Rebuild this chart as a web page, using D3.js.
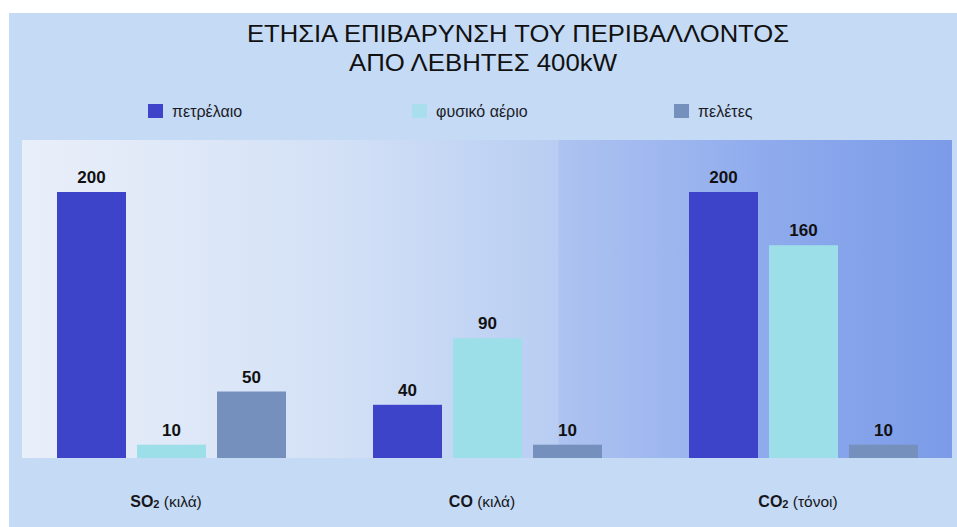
<!DOCTYPE html>
<html>
<head>
<meta charset="utf-8">
<script src="https://cdn.jsdelivr.net/npm/d3@7"></script>
<style>
  html, body { margin: 0; padding: 0; background: #ffffff; }
  svg { display: block; font-family: "Liberation Sans", Arial, sans-serif; }
</style>
</head>
<body>
<svg id="chart" width="957" height="527"></svg>
<script>
// ---- data ----
const categories = ["SO2", "CO", "CO2"];
const categoryChem = ["SO", "CO", "CO"];
const categorySub = ["2", "", "2"];
const categoryUnit = ["(κιλά)", "(κιλά)", " (τόνοι)"];
const seriesNames = ["πετρέλαιο", "φυσικό αέριο", "πελέτες"];
const oilValues = [200, 40, 200];
const gasValues = [10, 90, 160];
const pelletValues = [50, 10, 10];
const titleLines = ["ΕΤΗΣΙΑ ΕΠΙΒΑΡΥΝΣΗ ΤΟΥ ΠΕΡΙΒΑΛΛΟΝΤΟΣ", "ΑΠΟ ΛΕΒΗΤΕΣ 400kW"];
const seriesColors = ["#3d44c9", "#9cdfe8", "#7590bd"];

const seriesValues = [oilValues, gasValues, pelletValues];

const svg = d3.select("#chart");
const W = 957, H = 527;

// background
const defs = svg.append("defs");
const grad = defs.append("linearGradient").attr("id", "plotGrad")
  .attr("x1", "0%").attr("x2", "100%").attr("y1", "0%").attr("y2", "0%");
[[0, "#e9eff9"], [0.15, "#e0e9f8"], [0.35, "#d2e0f6"], [0.576, "#b8cdf2"], [0.578, "#adc3f0"],
 [0.8, "#8fabed"], [1, "#7b9be8"]]
  .forEach(([o, c]) => grad.append("stop").attr("offset", o).attr("stop-color", c));

svg.append("rect").attr("x", 0).attr("y", 0).attr("width", W).attr("height", H).attr("fill", "#ffffff");
svg.append("rect").attr("x", 9).attr("y", 13).attr("width", W - 9).attr("height", H - 13).attr("fill", "#c5daf4");

const plotTop = 140, baseY = 458, plotLeft = 22, plotRight = 952;
svg.append("rect").attr("x", plotLeft).attr("y", plotTop)
  .attr("width", plotRight - plotLeft).attr("height", baseY - plotTop)
  .attr("fill", "url(#plotGrad)");

// scales
const x0 = d3.scaleBand().domain(categories).range([13, 961]).paddingInner(0).paddingOuter(0);
const x1 = d3.scaleBand().domain(seriesNames).range([44, 273]).paddingInner(0.1375).paddingOuter(0);
const y = d3.scaleLinear().domain([0, 200]).range([baseY, 192]);

// bars
const rows = [];
categories.forEach((c, ci) => {
  seriesNames.forEach((s, si) => {
    rows.push({ cat: c, ser: s, si: si, v: seriesValues[si][ci] });
  });
});

const g = svg.append("g");
g.selectAll("rect.bar").data(rows).join("rect")
  .attr("class", "bar")
  .attr("x", d => x0(d.cat) + x1(d.ser))
  .attr("y", d => y(d.v))
  .attr("width", x1.bandwidth())
  .attr("height", d => y(0) - y(d.v))
  .attr("fill", d => seriesColors[d.si]);

g.selectAll("text.val").data(rows).join("text")
  .attr("class", "val")
  .attr("x", d => x0(d.cat) + x1(d.ser) + x1.bandwidth() / 2)
  .attr("y", d => y(d.v) - 9)
  .attr("text-anchor", "middle")
  .attr("font-size", 17)
  .attr("font-weight", "bold")
  .attr("fill", "#111111")
  .text(d => d.v);

// category labels
const labels = svg.append("g").selectAll("text.cat").data(categories).join("text")
  .attr("class", "cat")
  .attr("x", d => x0(d) + x0.bandwidth() / 2 - 5)
  .attr("y", 507)
  .attr("text-anchor", "middle")
  .attr("fill", "#161620");
labels.each(function(d, i) {
  const t = d3.select(this);
  t.append("tspan").attr("font-weight", "bold").attr("font-size", 16).text(categoryChem[i]);
  if (categorySub[i]) {
    t.append("tspan").attr("font-weight", "bold").attr("font-size", 11).attr("dy", 1).text(categorySub[i]);
    t.append("tspan").attr("font-size", 15.5).attr("dy", -1).text(" " + categoryUnit[i]);
  } else {
    t.append("tspan").attr("font-size", 15.5).text(" " + categoryUnit[i]);
  }
});

// title
svg.append("text").attr("x", 247).attr("y", 42)
  .attr("font-size", 24).attr("fill", "#111111")
  .attr("textLength", 542).attr("lengthAdjust", "spacingAndGlyphs").text(titleLines[0]);
svg.append("text").attr("x", 349).attr("y", 71)
  .attr("font-size", 24).attr("fill", "#111111")
  .attr("textLength", 268).attr("lengthAdjust", "spacingAndGlyphs").text(titleLines[1]);

// legend
const legendX = [148, 412, 674];
const leg = svg.append("g").selectAll("g.leg").data(seriesNames).join("g")
  .attr("class", "leg")
  .attr("transform", (d, i) => `translate(${legendX[i]},104)`);
leg.append("rect").attr("width", 15).attr("height", 14)
  .attr("fill", (d, i) => seriesColors[i])
  .attr("opacity", (d, i) => i === 1 ? 0.7 : 1);
leg.append("text").attr("x", 24).attr("y", 13)
  .attr("font-size", 16).attr("fill", "#1c1c28").text(d => d);
</script>
</body>
</html>
